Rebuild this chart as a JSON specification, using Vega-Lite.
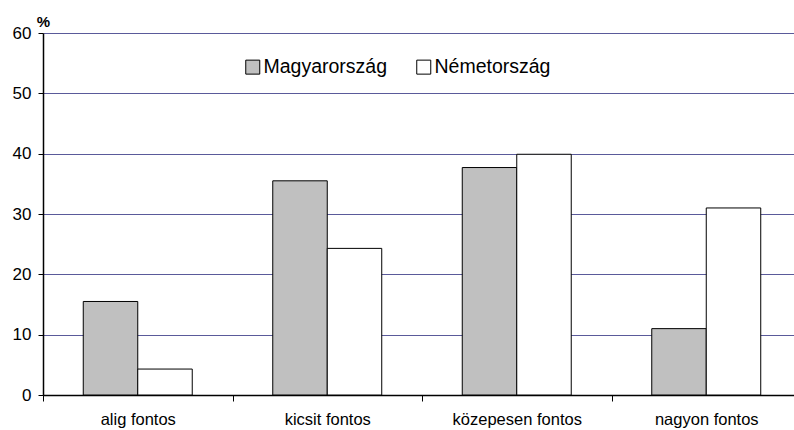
{
  "$schema": "https://vega.github.io/schema/vega-lite/v6.json",
  "width": 758,
  "height": 362,
  "autosize": {"type": "none"},
  "padding": {"left": 43, "top": 33, "right": 0, "bottom": 35},
  "background": "white",
  "config": {
    "view": {"stroke": null},
    "font": "Liberation Sans"
  },
  "data": {
    "values": [
      {"kategoria": "alig fontos", "orszag": "Magyarország", "ertek": 15.5},
      {"kategoria": "alig fontos", "orszag": "Németország", "ertek": 4.3},
      {"kategoria": "kicsit fontos", "orszag": "Magyarország", "ertek": 35.5},
      {"kategoria": "kicsit fontos", "orszag": "Németország", "ertek": 24.3},
      {"kategoria": "közepesen fontos", "orszag": "Magyarország", "ertek": 37.7},
      {"kategoria": "közepesen fontos", "orszag": "Németország", "ertek": 39.9},
      {"kategoria": "nagyon fontos", "orszag": "Magyarország", "ertek": 11.0},
      {"kategoria": "nagyon fontos", "orszag": "Németország", "ertek": 31.0}
    ]
  },
  "mark": {"type": "bar", "stroke": "black", "strokeWidth": 1},
  "encoding": {
    "x": {
      "field": "kategoria",
      "type": "nominal",
      "sort": null,
      "scale": {"paddingInner": 0, "paddingOuter": 0},
      "axis": {
        "title": null,
        "labelAngle": 0,
        "labelFontSize": 16.5,
        "labelColor": "black",
        "labelPadding": 10,
        "tickBand": "extent",
        "tickSize": 6,
        "tickColor": "black",
        "domainColor": "black",
        "domainWidth": 1.5,
        "grid": false
      }
    },
    "xOffset": {
      "field": "orszag",
      "type": "nominal",
      "sort": ["Magyarország", "Németország"],
      "scale": {"paddingInner": 0, "paddingOuter": 0.739}
    },
    "y": {
      "field": "ertek",
      "type": "quantitative",
      "scale": {"domain": [0, 60], "nice": false},
      "axis": {
        "values": [0, 10, 20, 30, 40, 50, 60],
        "title": "%",
        "titleAngle": 0,
        "titleX": 0,
        "titleY": -7,
        "titleAlign": "center",
        "titleBaseline": "alphabetic",
        "titleFontSize": 15,
        "titleFontWeight": "bold",
        "titleColor": "black",
        "labelFontSize": 17,
        "labelColor": "black",
        "labelPadding": 7,
        "tickSize": 5,
        "tickColor": "black",
        "domainColor": "black",
        "domainWidth": 1.5,
        "grid": true,
        "gridColor": "#5a5a9a",
        "gridWidth": 1
      }
    },
    "color": {
      "field": "orszag",
      "type": "nominal",
      "sort": ["Magyarország", "Németország"],
      "scale": {"domain": ["Magyarország", "Németország"], "range": ["#C0C0C0", "#FFFFFF"]},
      "legend": {
        "title": null,
        "orient": "none",
        "legendX": 200,
        "legendY": 24,
        "direction": "horizontal",
        "symbolType": "square",
        "symbolSize": 196,
        "symbolStrokeColor": "black",
        "symbolStrokeWidth": 1,
        "labelFontSize": 19.5,
        "labelColor": "black",
        "labelOffset": 1,
        "columnPadding": 26
      }
    }
  }
}
